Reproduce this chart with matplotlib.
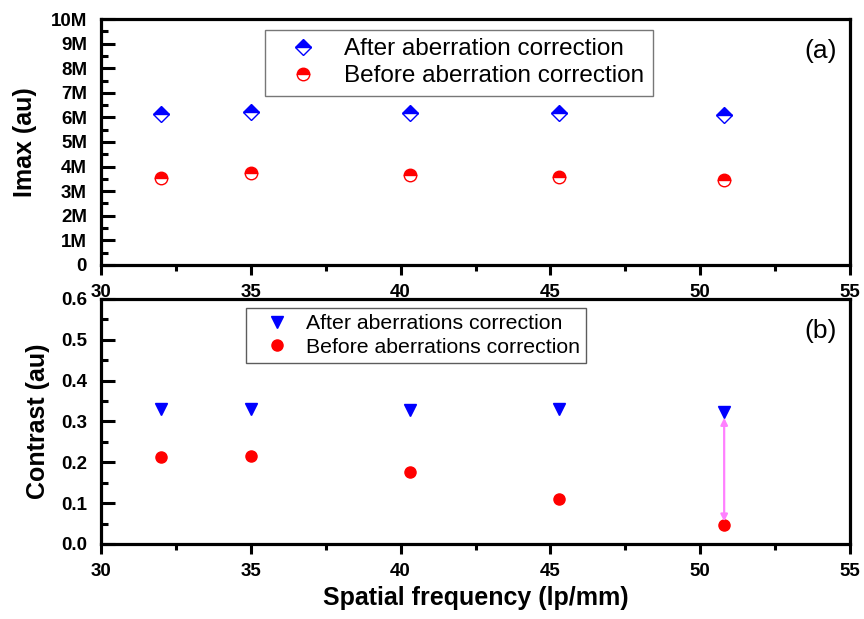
import matplotlib
matplotlib.use("Agg")
import matplotlib.pyplot as plt
from matplotlib.ticker import FuncFormatter, MultipleLocator

plt.rcParams['font.family'] = ['Liberation Sans', 'DejaVu Sans']

# Spatial frequencies (lp/mm)
freq = [32.0, 35.0, 40.3, 45.3, 50.8]

# Panel (a): peak intensity
imax_after = [6.14e6, 6.20e6, 6.19e6, 6.19e6, 6.10e6]
imax_before = [3.52e6, 3.74e6, 3.66e6, 3.58e6, 3.46e6]

# Panel (b): contrast
contrast_after = [0.331, 0.331, 0.327, 0.330, 0.323]
contrast_before = [0.212, 0.216, 0.177, 0.110, 0.046]

x_ticks = [30, 35, 40, 45, 50, 55]
imax_ticks = [0, 1e6, 2e6, 3e6, 4e6, 5e6, 6e6, 7e6, 8e6, 9e6, 10e6]
contrast_ticks = [0.0, 0.1, 0.2, 0.3, 0.4, 0.5, 0.6]

fig = plt.figure(figsize=(8.64, 6.19), dpi=100)
ax1 = fig.add_axes([0.1169, 0.5719, 0.8669, 0.3974])
ax2 = fig.add_axes([0.1169, 0.1212, 0.8669, 0.3958])


def style_axes(ax):
    for s in ax.spines.values():
        s.set_linewidth(2.3)
    ax.set_xlim(30, 55)
    ax.set_xticks(x_ticks)
    ax.xaxis.set_minor_locator(MultipleLocator(2.5))
    ax.tick_params(axis='x', which='major', direction='out', length=7, width=2.2,
                   labelsize=13.5, pad=7)
    ax.tick_params(axis='x', which='minor', direction='out', length=4, width=2.2)
    ax.tick_params(axis='y', which='major', direction='in', length=10, width=2.2,
                   labelsize=13.5, pad=10)
    ax.tick_params(axis='y', which='minor', direction='in', length=5, width=2.2)
    ax.tick_params(top=False, right=False, which='both')
    for lab in ax.get_xticklabels() + ax.get_yticklabels():
        lab.set_fontweight('bold')


# --- Panel (a) ---
ax1.plot(freq, imax_after, linestyle='none', marker='D', markersize=8.5,
         fillstyle='top', color='#0000ff', markerfacecoloralt='white',
         markeredgecolor='#0000ff', markeredgewidth=1.0,
         label='After aberration correction')
ax1.plot(freq, imax_before, linestyle='none', marker='o', markersize=9,
         fillstyle='top', color='#ff0000', markerfacecoloralt='white',
         markeredgecolor='#ff0000', markeredgewidth=1.0,
         label='Before aberration correction')
ax1.set_ylim(0, 10e6)
ax1.set_yticks(imax_ticks)
ax1.yaxis.set_minor_locator(MultipleLocator(0.5e6))
ax1.yaxis.set_major_formatter(FuncFormatter(
    lambda v, p: '0' if v == 0 else f'{int(round(v / 1e6))}M'))
style_axes(ax1)
ax1.set_ylabel('Imax (au)', fontsize=18, fontweight='bold', labelpad=10)
ax1.text(0.982, 0.92, '(a)', transform=ax1.transAxes, ha='right', va='top',
         fontsize=19)
leg1 = ax1.legend(loc='upper left', bbox_to_anchor=(0.219, 0.957),
                  borderaxespad=0, fancybox=False, fontsize=17.5,
                  handletextpad=0.45, borderpad=0.35, labelspacing=0.22,
                  handlelength=2.45, edgecolor='#555555')
leg1.get_frame().set_linewidth(1.0)

# --- Panel (b) ---
ax2.plot(freq, contrast_after, linestyle='none', marker='v', markersize=9,
         color='#0000ff', label='After aberrations correction')
ax2.plot(freq, contrast_before, linestyle='none', marker='o', markersize=8,
         color='#ff0000', label='Before aberrations correction')
ax2.annotate('', xy=(freq[-1], 0.309), xytext=(freq[-1], 0.055),
             arrowprops=dict(arrowstyle='<|-|>', color='#ff80ff', lw=1.6,
                             mutation_scale=10, shrinkA=0, shrinkB=0))
ax2.set_ylim(0, 0.6)
ax2.set_yticks(contrast_ticks)
ax2.yaxis.set_minor_locator(MultipleLocator(0.05))
ax2.yaxis.set_major_formatter(FuncFormatter(lambda v, p: f'{v:.1f}'))
style_axes(ax2)
ax2.set_ylabel('Contrast (au)', fontsize=18, fontweight='bold', labelpad=8)
ax2.set_xlabel('Spatial frequency (lp/mm)', fontsize=18, fontweight='bold',
               labelpad=4)
ax2.text(0.982, 0.92, '(b)', transform=ax2.transAxes, ha='right', va='top',
         fontsize=19)
leg2 = ax2.legend(loc='upper left', bbox_to_anchor=(0.194, 0.963),
                  borderaxespad=0, fancybox=False, fontsize=15.3,
                  handletextpad=0.2, borderpad=0.3, labelspacing=0.2,
                  handlelength=2.3, edgecolor='#333333')
leg2.get_frame().set_linewidth(1.0)

fig.savefig('out.png', dpi=100)
